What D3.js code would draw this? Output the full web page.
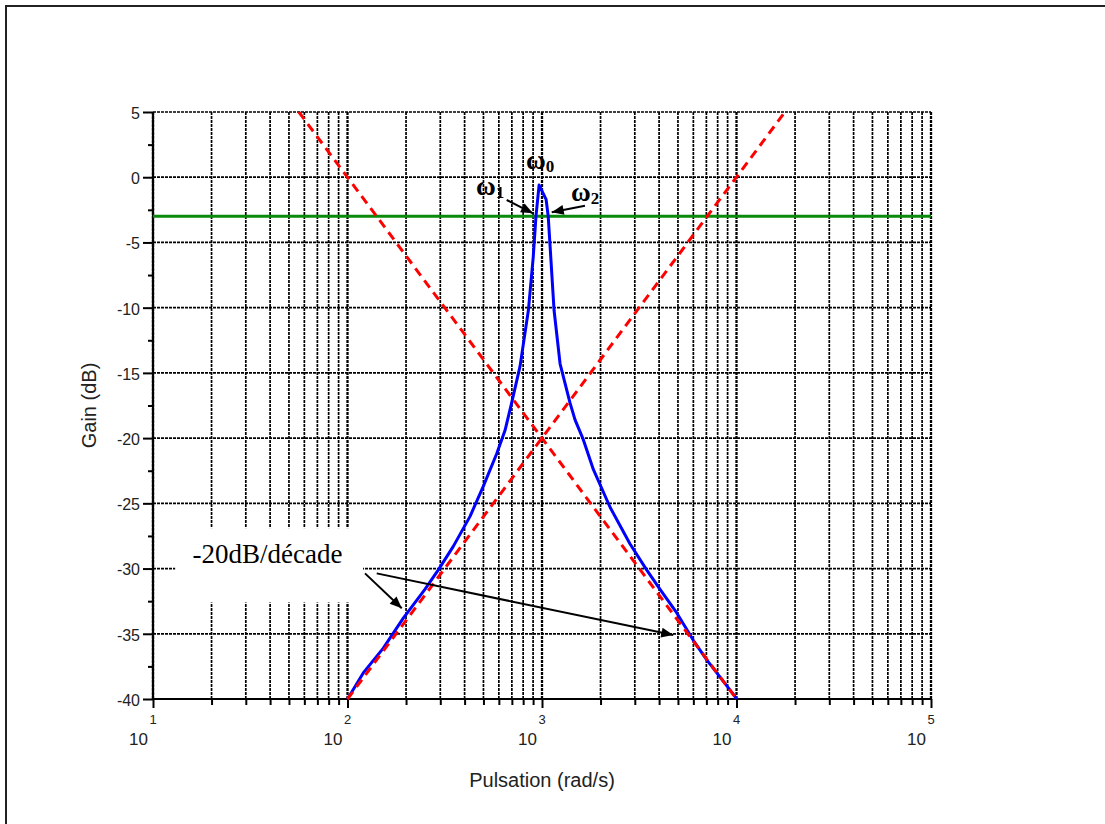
<!DOCTYPE html>
<html>
<head>
<meta charset="utf-8">
<script src="https://cdn.jsdelivr.net/npm/d3@7"></script>
<style>
  html, body { margin: 0; padding: 0; background: #fff; }
  svg { display: block; }
</style>
</head>
<body>
<svg id="chart" width="1105" height="824"></svg>
<script>
// Bode gain plot of a resonant band-pass filter, with its asymptotes and the -3 dB level.

// Axis values
const decades = [1, 2, 3, 4, 5];
const gainTicks = [5, 0, -5, -10, -15, -20, -25, -30, -35, -40];
const gainMinorTicks = [2.5, -2.5, -7.5, -12.5, -17.5, -22.5, -27.5, -32.5, -37.5];

// Measured gain curve: pulsation (rad/s) and gain (dB)
const omega = [100, 120.5, 152.8, 193.6, 250, 293.1, 349.9, 426.6, 498.9, 584.8, 645.7, 698.2,
  770.9, 851.1, 901.6, 931.1, 966.1, 1049.5, 1076.4, 1109.2, 1153.5, 1238.8, 1393.2, 1479,
  1629.3, 1836.5, 2238.7, 2831.4, 3451.4, 4045.7, 4931.6, 5997.9, 7030.4, 9817, 10000];
const gain = [-40, -38.0, -36.1, -33.8, -31.6, -30.1, -28.3, -26.0, -23.7, -21.2, -19.4, -17.3,
  -14.5, -10.2, -6.1, -3.0, -0.6, -1.7, -3.0, -6.1, -10.2, -14.3, -17.3, -18.6,
  -20.1, -22.4, -25.3, -28.1, -30.1, -31.6, -33.4, -35.5, -37.0, -39.8, -40];

// Asymptotes (+20 dB/decade and -20 dB/decade)
const riseOmega = [100, 17750];
const riseGain = [-40, 5];
const fallOmega = [56.2, 10000];
const fallGain = [5, -40];

// Cut-off level
const cutoffGain = -3;

// Annotations
const slopeLabel = "-20dB/décade";
const slopeLabelAt = [38.8, -29.55];
const slopeBox = [[13.0, -26.9], [120.2, -32.6]];
const slopeArrows = [
  [[123.0, -30.37], [190.1, -33.05]],
  [[141.3, -30.37], [4732, -35.1]]
];
const omegaLabels = [
  { sub: "0", at: [828, 0.63] },
  { sub: "1", at: [458, -1.36] },
  { sub: "2", at: [1409, -1.82] }
];
const omegaArrows = [
  [[658.3, -1.746], [899, -2.766]],
  [[1663, -2.18], [1122, -2.69]]
];

const svg = d3.select("#chart");
const W = 1105, H = 824;
const sans = "'Liberation Sans', Arial, sans-serif";
const serif = "'Liberation Serif', 'Times New Roman', serif";

const x = d3.scaleLog().domain([10, 1e5]).range([153, 931]);
const y = d3.scaleLinear().domain([-40, 5]).range([699, 112]);

// Outer frame (top and left edges)
svg.append("path")
  .attr("d", `M6,${H + 2}V6H${W + 2}`)
  .attr("fill", "none").attr("stroke", "#222").attr("stroke-width", 2);

// Grid positions
const minorX = [];
decades.slice(0, -1).forEach(d => {
  for (let k = 2; k <= 9; k++) minorX.push(k * Math.pow(10, d));
});
const majorX = decades.map(d => Math.pow(10, d));

const grid = svg.append("g");
grid.selectAll("line.vminor").data(minorX).join("line")
  .attr("x1", d => x(d)).attr("x2", d => x(d))
  .attr("y1", y(5)).attr("y2", y(-40))
  .attr("stroke", "#000").attr("stroke-width", 1.7).attr("stroke-dasharray", "3,1");
grid.selectAll("line.vmajor").data(majorX).join("line")
  .attr("x1", d => x(d)).attr("x2", d => x(d))
  .attr("y1", y(5)).attr("y2", y(-40))
  .attr("stroke", "#000").attr("stroke-width", 2.3).attr("stroke-dasharray", "3,1");
grid.selectAll("line.h").data(gainTicks).join("line")
  .attr("x1", x(10)).attr("x2", x(1e5))
  .attr("y1", d => y(d)).attr("y2", d => y(d))
  .attr("stroke", "#000").attr("stroke-width", 1.7).attr("stroke-dasharray", "3,1");

// Axis lines
svg.append("line").attr("x1", x(10)).attr("x2", x(1e5)).attr("y1", y(-40)).attr("y2", y(-40))
  .attr("stroke", "#000").attr("stroke-width", 2.2);
svg.append("line").attr("x1", x(10)).attr("x2", x(10)).attr("y1", y(5)).attr("y2", y(-40))
  .attr("stroke", "#000").attr("stroke-width", 2.2);

// Ticks
const xMajor = d3.axisBottom(x).tickValues(majorX).tickSize(9).tickFormat("");
const xMinor = d3.axisBottom(x).tickValues(minorX).tickSize(6).tickFormat("");
const yMajor = d3.axisLeft(y).tickValues(gainTicks).tickSize(10).tickPadding(3)
  .tickFormat(d => String(d));
const yMinor = d3.axisLeft(y).tickValues(gainMinorTicks).tickSize(5).tickFormat("");

function styleAxis(g) {
  g.select(".domain").remove();
  g.selectAll(".tick line").attr("stroke", "#000").attr("stroke-width", 2);
}
svg.append("g").attr("transform", `translate(0,${y(-40)})`).call(xMinor).call(styleAxis);
svg.append("g").attr("transform", `translate(0,${y(-40)})`).call(xMajor).call(styleAxis);
svg.append("g").attr("transform", `translate(${x(10)},0)`).call(yMinor).call(styleAxis);
const yAx = svg.append("g").attr("transform", `translate(${x(10)},0)`).call(yMajor).call(styleAxis);
yAx.selectAll(".tick text")
  .attr("font-family", sans).attr("font-size", 16).attr("fill", "#222")
  .attr("dy", "0.4em");

// Decade labels: 10 with exponent
const dl = svg.append("g");
decades.forEach(d => {
  const px = x(Math.pow(10, d));
  dl.append("text").attr("x", px).attr("y", 724).attr("text-anchor", "middle")
    .attr("font-family", sans).attr("font-size", 13).attr("fill", "#222").text(d);
  dl.append("text").attr("x", px - 5).attr("y", 745).attr("text-anchor", "end")
    .attr("font-family", sans).attr("font-size", 17).attr("fill", "#222").text("10");
});

// Axis titles
svg.append("text")
  .attr("x", (x(10) + x(1e5)) / 2).attr("y", 787).attr("text-anchor", "middle")
  .attr("font-family", sans).attr("font-size", 20).attr("fill", "#222")
  .text("Pulsation (rad/s)");
svg.append("text")
  .attr("transform", `translate(96,${(y(5) + y(-40)) / 2}) rotate(-90)`)
  .attr("text-anchor", "middle")
  .attr("font-family", sans).attr("font-size", 20).attr("fill", "#222")
  .text("Gain (dB)");

// White box behind the slope label
svg.append("rect")
  .attr("x", x(slopeBox[0][0])).attr("y", y(slopeBox[0][1]))
  .attr("width", x(slopeBox[1][0]) - x(slopeBox[0][0]))
  .attr("height", y(slopeBox[1][1]) - y(slopeBox[0][1]))
  .attr("fill", "#fff");

const line = d3.line().x(d => x(d[0])).y(d => y(d[1]));

// -3 dB level
svg.append("path")
  .attr("d", line([[10, cutoffGain], [1e5, cutoffGain]]))
  .attr("fill", "none").attr("stroke", "#0a8a0a").attr("stroke-width", 3);

// Gain curve
svg.append("path")
  .attr("d", line(d3.zip(omega, gain)))
  .attr("fill", "none").attr("stroke", "#0000ff").attr("stroke-width", 3)
  .attr("stroke-linejoin", "round");

// Asymptotes
[[riseOmega, riseGain], [fallOmega, fallGain]].forEach(([w, g]) => {
  svg.append("path")
    .attr("d", line(d3.zip(w, g)))
    .attr("fill", "none").attr("stroke", "#ff0000").attr("stroke-width", 3)
    .attr("stroke-dasharray", "9,6");
});

// Arrow heads
const defs = svg.append("defs");
defs.append("marker")
  .attr("id", "head").attr("markerUnits", "userSpaceOnUse")
  .attr("viewBox", "0 0 12 10").attr("refX", 12).attr("refY", 5)
  .attr("markerWidth", 13).attr("markerHeight", 10).attr("orient", "auto")
  .append("path").attr("d", "M0,0L12,5L0,10Z").attr("fill", "#000");

// Slope label and its arrows
svg.append("text")
  .attr("x", x(slopeLabelAt[0])).attr("y", y(slopeLabelAt[1]))
  .attr("text-anchor", "middle")
  .attr("font-family", serif).attr("font-size", 27).attr("fill", "#000")
  .text(slopeLabel);
slopeArrows.forEach(a => {
  svg.append("path").attr("d", line(a))
    .attr("fill", "none").attr("stroke", "#000").attr("stroke-width", 2)
    .attr("marker-end", "url(#head)");
});

// Pulsation labels
omegaLabels.forEach(l => {
  const t = svg.append("text")
    .attr("x", x(l.at[0])).attr("y", y(l.at[1]))
    .attr("font-family", serif).attr("font-weight", "bold").attr("font-size", 27)
    .attr("fill", "#000");
  t.append("tspan").text("ω");
  t.append("tspan").attr("font-size", 17).attr("dy", 3).text(l.sub);
});
omegaArrows.forEach(a => {
  svg.append("path").attr("d", line(a))
    .attr("fill", "none").attr("stroke", "#000").attr("stroke-width", 2)
    .attr("marker-end", "url(#head)");
});
</script>
</body>
</html>
